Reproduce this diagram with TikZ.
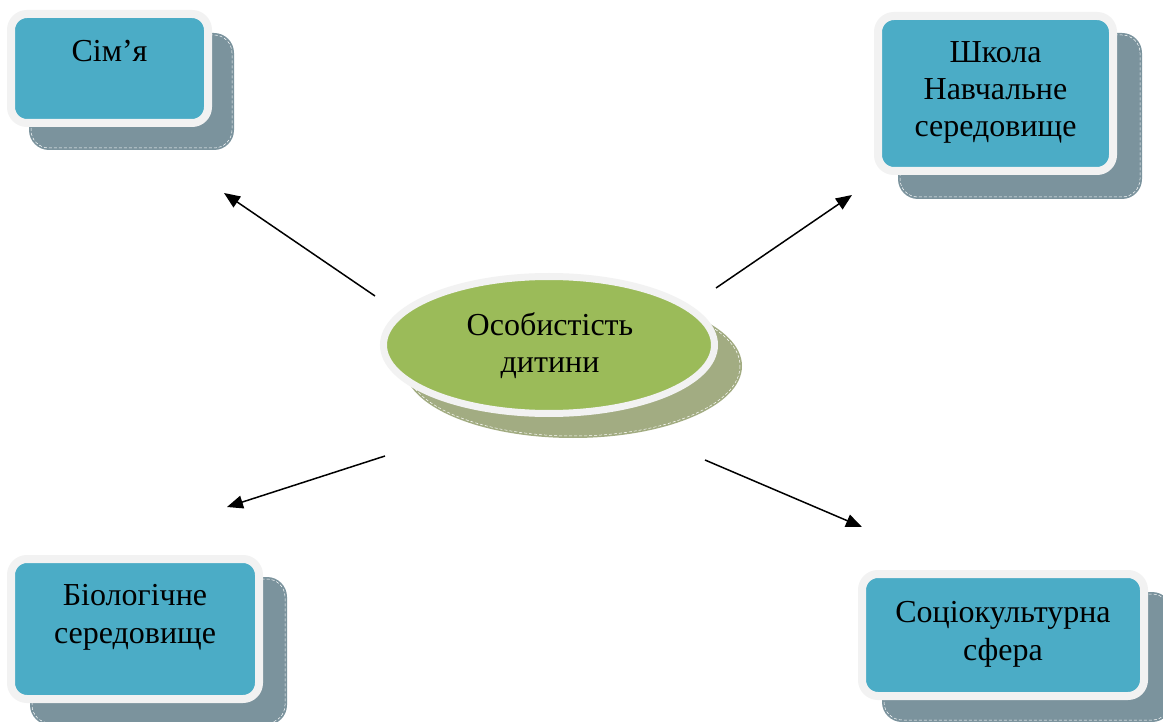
\documentclass[tikz,border=0pt]{standalone}
\usepackage{fontspec}
\setmainfont{Liberation Serif}
\usetikzlibrary{arrows.meta}
\definecolor{boxblue}{HTML}{4BACC6}
\definecolor{elgreen}{HTML}{9BBB59}
\definecolor{rimgray}{HTML}{F2F2F2}
\definecolor{shadowblue}{HTML}{7B939D}
\definecolor{shadowolive}{HTML}{A2AC82}
\tikzset{
  shadowbox/.style={fill=shadowblue, rounded corners=20pt},
  shadowdash/.style={draw=white, densely dashed, line width=0.5pt, rounded corners=18pt},
  mainbox/.style={rectangle, draw=rimgray, line width=8pt, fill=boxblue, rounded corners=16pt, inner sep=0pt},
  mainell/.style={ellipse, draw=rimgray, line width=7pt, fill=elgreen, inner sep=0pt},
  txt/.style={anchor=base, inner sep=0pt, font=\fontsize{32}{37}\selectfont},
  arr/.style={line width=1.5pt, -{Triangle[length=16pt,width=13pt]}}
}
\usetikzlibrary{shapes.geometric}
\begin{document}
\begin{tikzpicture}[x=1pt,y=-1pt]
\useasboundingbox (0,0) rectangle (1163,722);
\fill[white] (0,0) rectangle (1163,722);
% shadows
\path[shadowbox] (29,33) rectangle (234,150);
\path[shadowdash] (31,35) rectangle (232,148);
\path[shadowbox] (898,33) rectangle (1142,199);
\path[shadowdash] (900,35) rectangle (1140,197);
\path[shadowbox] (30,577) rectangle (287,725);
\path[shadowdash] (32,579) rectangle (285,723);
\path[shadowbox] (882,592) rectangle (1172,722);
\path[shadowdash] (884,594) rectangle (1170,720);
\fill[shadowolive] (573,366) ellipse [x radius=169, y radius=72];
\draw[white, densely dashed, line width=0.5pt] (573,366) ellipse [x radius=167, y radius=70];
% boxes
\node[mainbox, minimum width=197pt, minimum height=109pt] (fam) at (109.5,68.5) {};
\node[mainbox, minimum width=235pt, minimum height=155pt] (sch) at (995.5,93.5) {};
\node[mainbox, minimum width=248pt, minimum height=140pt] (bio) at (135,629) {};
\node[mainbox, minimum width=282pt, minimum height=122pt] (soc) at (1003,635) {};
\node[mainell, minimum width=331pt, minimum height=137pt] (ch) at (549,345) {};
% texts
\node[txt] (tfam) at (109.5,62) {Сім’я};
\node[txt] (tsch1) at (995.5,63) {Школа};
\node[txt] (tsch2) at (995.5,100) {Навчальне};
\node[txt] (tsch3) at (995.5,137) {середовище};
\node[txt] (tbio1) at (135,605) {Біологічне};
\node[txt] (tbio2) at (135,643) {середовище};
\node[txt] (tsoc1) at (1003,622) {Соціокультурна};
\node[txt] (tsoc2) at (1003,660) {сфера};
\node[txt] (tch1) at (550,336) {Особистість};
\node[txt] (tch2) at (550,373) {дитини};
% arrows
\coordinate (s1) at (375,296); \coordinate (e1) at (224,193);
\coordinate (s2) at (716,288); \coordinate (e2) at (852,195);
\coordinate (s3) at (385,456); \coordinate (e3) at (227,507);
\coordinate (s4) at (705,460); \coordinate (e4) at (862,527);
\draw[arr] (s1) -- (e1);
\draw[arr] (s2) -- (e2);
\draw[arr] (s3) -- (e3);
\draw[arr] (s4) -- (e4);
\end{tikzpicture}
\end{document}
